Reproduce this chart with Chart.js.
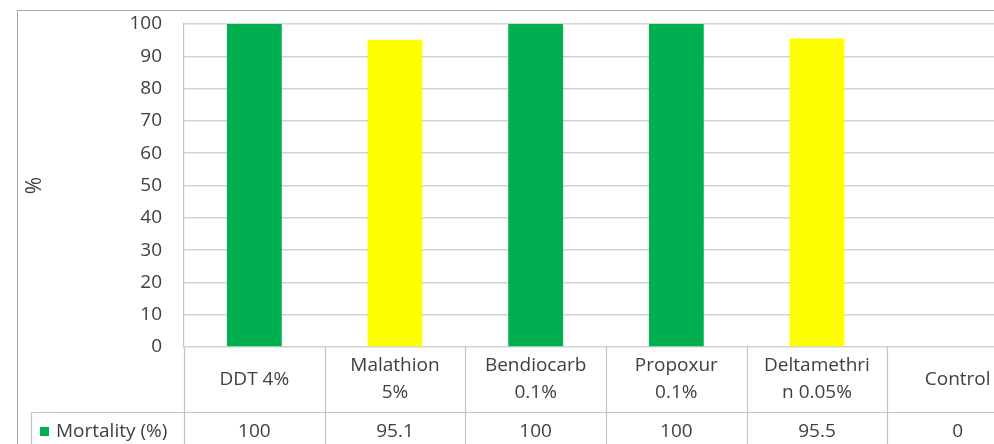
<!DOCTYPE html>
<html>
<head>
<meta charset="utf-8">
<script src="https://cdn.jsdelivr.net/npm/chart.js@4/dist/chart.umd.min.js"></script>
<style>
  html, body { margin: 0; padding: 0; background: #fff; overflow: hidden; }
  #wrap { position: absolute; left: 0; top: 0; width: 1050px; height: 470px; }
</style>
</head>
<body>
<div id="wrap"><canvas id="c" width="1050" height="470"></canvas></div>
<script>
// Insecticide susceptibility test results
const categories = [
  ["DDT 4%"],
  ["Malathion", "5%"],
  ["Bendiocarb", "0.1%"],
  ["Propoxur", "0.1%"],
  ["Deltamethri", "n 0.05%"],
  ["Control"]
];
const mortality = [100, 95.1, 100, 100, 95.5, 0];
const barColors = ["#00B050", "#FFFF00", "#00B050", "#00B050", "#FFFF00", "#00B050"];
const seriesName = "Mortality (%)";
const yTicks = { min: 0, max: 100, step: 10 };
const yTitle = "%";

const FONT = "'Open Sans', Lato, sans-serif";
const TEXT = "#404040";
const GRID = "#d2d2d2";
const RULE = "#c4c4c4";

// Outer frame and the rotated axis title
const framePlugin = {
  id: "frame",
  beforeDraw(chart) {
    const ctx = chart.ctx;
    ctx.save();
    ctx.fillStyle = "#fff";
    ctx.fillRect(0, 0, chart.width, chart.height);
    ctx.strokeStyle = "#a6a6a6";
    ctx.lineWidth = 1;
    ctx.strokeRect(17.5, 10.5, chart.width + 50, chart.height + 50);
    ctx.restore();
  },
  afterDraw(chart) {
    const ctx = chart.ctx;
    const a = chart.chartArea;
    ctx.save();
    ctx.translate(35, (a.top + a.bottom) / 2);
    ctx.rotate(-Math.PI / 2);
    ctx.fillStyle = TEXT;
    ctx.font = "21px " + FONT;
    ctx.textAlign = "center";
    ctx.textBaseline = "middle";
    ctx.fillText(yTitle, 0, 0);
    ctx.restore();
  }
};

// Data table under the plot: category row and value row
const tablePlugin = {
  id: "dataTable",
  afterDraw(chart) {
    const ctx = chart.ctx;
    const a = chart.chartArea;
    const x = chart.scales.x;
    const step = x.getPixelForValue(1) - x.getPixelForValue(0);
    const headTop = a.bottom;
    const headBottom = a.bottom + 65;
    const rowBottom = headBottom + 36;
    const legendLeft = 31;
    ctx.save();
    ctx.strokeStyle = RULE;
    ctx.lineWidth = 1.2;
    ctx.beginPath();
    // column separators
    for (let i = 0; i <= categories.length; i++) {
      const px = Math.round(x.getPixelForValue(0) - step / 2 + i * step) + 0.5;
      ctx.moveTo(px, headTop);
      ctx.lineTo(px, rowBottom);
    }
    // legend cell left edge
    ctx.moveTo(legendLeft + 0.5, headBottom);
    ctx.lineTo(legendLeft + 0.5, rowBottom);
    // row separators
    ctx.moveTo(legendLeft, Math.round(headBottom) + 0.5);
    ctx.lineTo(chart.width, Math.round(headBottom) + 0.5);
    ctx.moveTo(legendLeft, Math.round(rowBottom) + 0.5);
    ctx.lineTo(chart.width, Math.round(rowBottom) + 0.5);
    ctx.stroke();

    ctx.fillStyle = TEXT;
    ctx.font = "19px " + FONT;
    ctx.textAlign = "center";
    ctx.textBaseline = "middle";
    const lineH = 27;
    categories.forEach((lines, i) => {
      const cx = x.getPixelForValue(i);
      const cy = (headTop + headBottom) / 2;
      const y0 = cy - (lines.length - 1) * lineH / 2;
      lines.forEach((t, j) => ctx.fillText(t, cx, y0 + j * lineH));
    });
    const valY = headBottom + 20;
    mortality.forEach((v, i) => {
      ctx.fillText(String(v), x.getPixelForValue(i), valY);
    });

    // series key
    ctx.fillStyle = barColors[0];
    ctx.fillRect(40, valY - 5, 9, 9);
    ctx.fillStyle = TEXT;
    ctx.textAlign = "left";
    ctx.fillText(seriesName, 56, valY);
    ctx.restore();
  }
};

new Chart(document.getElementById("c"), {
  type: "bar",
  data: {
    labels: categories,
    datasets: [{
      label: seriesName,
      data: mortality,
      backgroundColor: barColors,
      borderWidth: 0,
      categoryPercentage: 1,
      barPercentage: 0.39
    }]
  },
  options: {
    responsive: false,
    animation: false,
    devicePixelRatio: 1,
    layout: { padding: { top: 24, right: 22, bottom: 123, left: 0 } },
    plugins: { legend: { display: false }, tooltip: { enabled: false } },
    scales: {
      x: { display: false, offset: true },
      y: {
        min: yTicks.min,
        max: yTicks.max,
        ticks: {
          stepSize: yTicks.step,
          padding: 22,
          color: TEXT,
          font: { family: FONT, size: 19 }
        },
        grid: { color: GRID, lineWidth: 1.5, drawTicks: false },
        border: { display: true, color: RULE, width: 1.2 },
        afterFit(scale) {
          scale.width = 184;
          // keep the tick gap from pushing the plot edges inward
          scale.paddingTop = 10;
          scale.paddingBottom = 10;
        }
      }
    }
  },
  plugins: [framePlugin, tablePlugin]
});
</script>
</body>
</html>
